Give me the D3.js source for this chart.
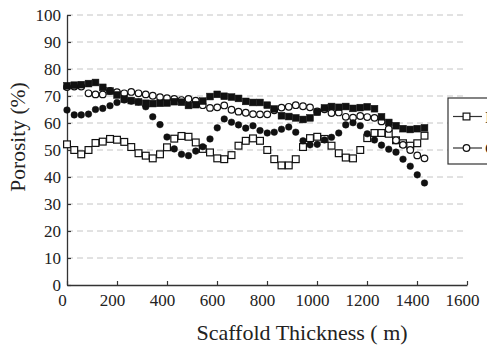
<!DOCTYPE html>
<html>
<head>
<meta charset="utf-8">
<script src="https://cdn.jsdelivr.net/npm/d3@7"></script>
<style>
  html, body { margin: 0; padding: 0; background: #fff; overflow: hidden; }
</style>
</head>
<body>
<div id="chart"></div>
<script>
// scaffold thickness (x) for every sample
const thickness = [0, 29, 57, 86, 114, 143, 172, 200, 229, 257, 286, 315, 343, 372, 400, 429, 458, 486, 515, 543,
  572, 601, 629, 658, 686, 715, 744, 772, 801, 829, 858, 887, 915, 944, 972, 1001, 1030, 1058, 1087, 1115,
  1144, 1173, 1201, 1230, 1258, 1287, 1316, 1344, 1373, 1401, 1430];

// porosity (%) per series
const openSquare = [52.1, 50.0, 48.4, 50.0, 52.6, 53.1, 54.1, 53.8, 53.0, 51.1, 48.8, 47.9, 46.9, 48.4, 51.0, 54.2, 55.2,
  54.9, 52.8, 50.4, 49.1, 46.9, 46.6, 48.1, 51.6, 53.4, 54.3, 53.4, 50.0, 46.6, 44.3, 44.3, 46.6, 51.1, 54.4,
  54.9, 54.1, 51.6, 48.8, 47.2, 46.9, 50.0, 54.4, 56.3, 56.3, 56.0, 53.6, 52.5, 51.6, 52.5, 55.3];
const openCircle = [73.3, 73.5, 73.5, 71.0, 70.6, 70.6, 71.9, 71.4, 71.0, 71.5, 71.0, 70.6, 70.1, 69.6, 69.2, 68.9, 68.5,
  68.9, 68.3, 66.6, 65.6, 65.8, 66.5, 64.9, 64.2, 63.8, 63.3, 63.2, 63.2, 64.7, 65.7, 66.0, 66.6, 66.2, 65.8,
  64.3, 65.1, 63.7, 63.9, 62.3, 62.0, 62.6, 62.2, 61.9, 60.6, 57.8, 53.6, 51.9, 50.0, 48.0, 46.9];
const filledSquare = [73.8, 74.0, 74.2, 74.6, 75.0, 73.2, 71.8, 70.4, 68.9, 68.3, 67.8, 67.3, 67.2, 67.3, 67.4, 67.9, 67.7,
  66.5, 66.8, 68.1, 69.8, 70.6, 69.9, 69.6, 69.1, 68.0, 67.6, 67.6, 66.6, 65.2, 62.7, 62.4, 61.9, 61.3, 61.9,
  64.0, 65.6, 66.1, 65.8, 66.1, 65.4, 65.7, 66.0, 65.3, 62.3, 60.2, 59.0, 57.9, 57.6, 57.9, 58.2];
const filledCircle = [64.8, 63.0, 63.0, 63.3, 65.0, 65.4, 66.4, 67.6, 68.5, 68.1, 67.8, 66.0, 62.3, 59.4, 54.8, 50.4, 48.4,
  47.9, 49.6, 51.2, 54.1, 58.2, 61.5, 60.3, 59.3, 58.1, 59.0, 57.2, 56.3, 56.6, 57.7, 58.5, 56.6, 53.4, 51.9,
  52.1, 53.7, 54.7, 56.3, 59.3, 60.1, 59.0, 56.0, 53.7, 51.8, 50.3, 49.2, 46.6, 44.0, 40.8, 37.8];

const xTicks = [0, 200, 400, 600, 800, 1000, 1200, 1400, 1600];
const yTicks = [0, 10, 20, 30, 40, 50, 60, 70, 80, 90, 100];
const legendLabels = ["Initial", "Cultured"];

const width = 487, height = 352;
const margin = { top: 15, right: 20, bottom: 67, left: 67 };
const contentWidth = 400, contentHeight = 270;
const serif = "Liberation Serif";

const svg = d3.select("#chart").append("svg")
  .attr("width", width)
  .attr("height", height)
  .attr("font-family", serif);

const g = svg.append("g")
  .attr("transform", "translate(" + margin.left + "," + margin.top + ")");

const x = d3.scaleLinear().domain([0, 1600]).range([0, contentWidth]);
const y = d3.scaleLinear().domain([0, 100]).range([contentHeight, 0]);

// dashed grid
g.selectAll(".grid")
  .data(yTicks.filter(d => d > 0))
  .enter().append("line")
  .attr("class", "grid")
  .attr("x1", 0).attr("x2", contentWidth)
  .attr("y1", d => y(d)).attr("y2", d => y(d))
  .attr("stroke", "#c4c4c4")
  .attr("stroke-width", 1)
  .attr("stroke-dasharray", "6,4");

// axes (ticks point inward)
const xAxis = g.append("g")
  .attr("transform", "translate(0," + contentHeight + ")")
  .call(d3.axisBottom(x).tickValues(xTicks).tickFormat(d3.format("d"))
    .tickSizeInner(-4).tickSizeOuter(0).tickPadding(9));
const yAxis = g.append("g")
  .call(d3.axisLeft(y).tickValues(yTicks).tickFormat(d3.format("d"))
    .tickSizeInner(-4).tickSizeOuter(0).tickPadding(6));

[xAxis, yAxis].forEach(a => {
  a.attr("font-family", serif).attr("font-size", 17);
  a.select(".domain").attr("stroke", "#333").attr("stroke-width", 1.3);
  a.selectAll(".tick line").attr("stroke", "#333").attr("stroke-width", 1.2);
  a.selectAll(".tick text").attr("fill", "#222").attr("font-family", serif);
});
xAxis.selectAll(".tick text").attr("dx", "-5");

// markers
const sq = 6.8;
function drawSquares(vals, filled) {
  g.append("g").selectAll("rect")
    .data(vals.map((v, i) => [thickness[i], v]))
    .enter().append("rect")
    .attr("x", d => x(d[0]) - sq / 2)
    .attr("y", d => y(d[1]) - sq / 2)
    .attr("width", sq).attr("height", sq)
    .attr("fill", filled ? "#111" : "#fff")
    .attr("stroke", "#111")
    .attr("stroke-width", filled ? 0.5 : 1.2);
}
function drawCircles(vals, filled) {
  g.append("g").selectAll("circle")
    .data(vals.map((v, i) => [thickness[i], v]))
    .enter().append("circle")
    .attr("cx", d => x(d[0]))
    .attr("cy", d => y(d[1]))
    .attr("r", 3.3)
    .attr("fill", filled ? "#111" : "#fff")
    .attr("stroke", "#111")
    .attr("stroke-width", filled ? 0.5 : 1.2);
}
drawSquares(openSquare, false);
drawCircles(openCircle, false);
drawCircles(filledCircle, true);
drawSquares(filledSquare, true);

// axis titles
svg.append("text")
  .attr("x", 302).attr("y", 340)
  .attr("text-anchor", "middle")
  .attr("fill", "#222")
  .attr("font-family", serif)
  .attr("font-size", 22)
  .text("Scaffold Thickness ( m)");

svg.append("text")
  .attr("transform", "translate(25,137) rotate(-90)")
  .attr("text-anchor", "middle")
  .attr("fill", "#222")
  .attr("font-family", serif)
  .attr("font-size", 21.5)
  .text("Porosity (%)");

// legend (runs past the right edge like the original)
const legend = svg.append("g").attr("transform", "translate(448,98)");
legend.append("rect")
  .attr("width", 120).attr("height", 66)
  .attr("fill", "#fff")
  .attr("stroke", "#333")
  .attr("stroke-width", 1.2);
legendLabels.forEach((label, i) => {
  const ly = 18.5 + i * 31.5;
  const row = legend.append("g").attr("transform", "translate(0," + ly + ")");
  row.append("line")
    .attr("x1", 5).attr("x2", 34)
    .attr("stroke", "#333").attr("stroke-width", 1.2);
  if (i === 0) {
    row.append("rect")
      .attr("x", 18.5 - sq / 2).attr("y", -sq / 2)
      .attr("width", sq).attr("height", sq)
      .attr("fill", "#fff").attr("stroke", "#111").attr("stroke-width", 1.2);
  } else {
    row.append("circle")
      .attr("cx", 18.5).attr("r", 3.3)
      .attr("fill", "#fff").attr("stroke", "#111").attr("stroke-width", 1.2);
  }
  row.append("text")
    .attr("x", 37).attr("y", 6)
    .attr("fill", "#222")
    .attr("font-family", serif)
    .attr("font-size", 17)
    .text(label);
});
</script>
</body>
</html>
